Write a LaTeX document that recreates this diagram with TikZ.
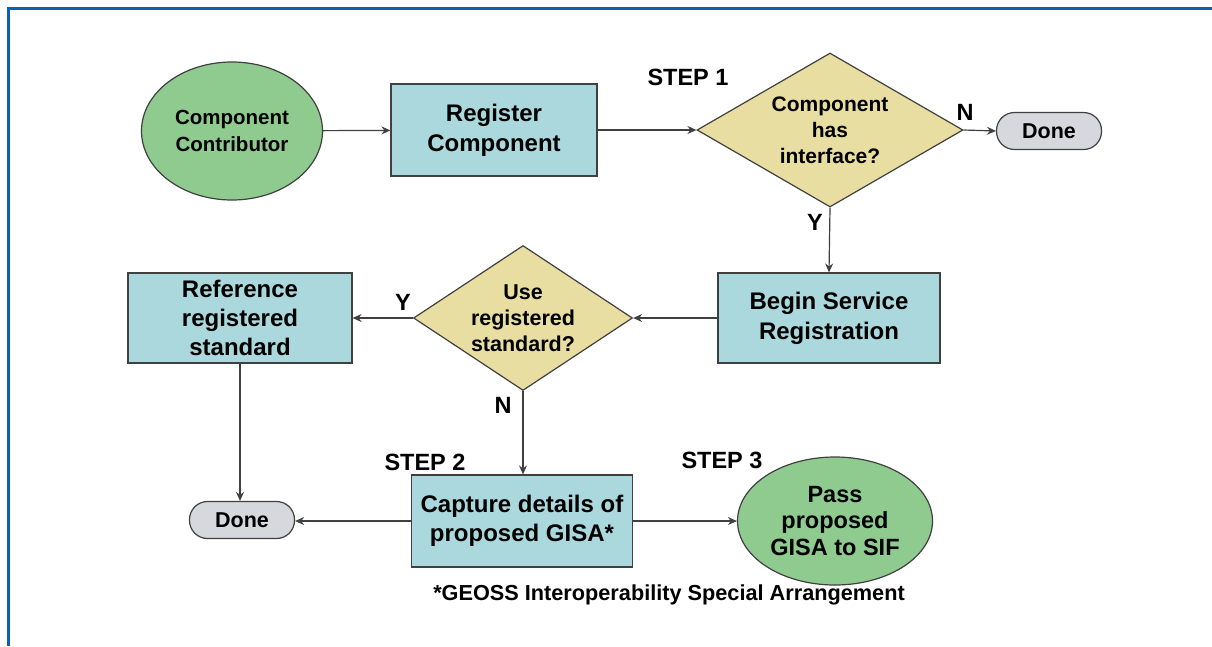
\documentclass[tikz,border=0pt]{standalone}
\usepackage{fontspec}
\setmainfont{Liberation Sans}
\usetikzlibrary{shapes.geometric,arrows.meta}
\definecolor{frameblue}{RGB}{16,96,176}
\definecolor{startgreen}{RGB}{143,203,143}
\definecolor{procteal}{RGB}{170,216,220}
\definecolor{decikhaki}{RGB}{232,222,162}
\definecolor{donegray}{RGB}{214,216,222}
\definecolor{edgegray}{RGB}{64,64,64}
\newcommand{\fsz}[2]{\fontsize{#1}{#2}\selectfont\bfseries}
\tikzset{
  txt/.style={align=center, text=black},
  startell/.style={ellipse, draw=edgegray, line width=1.2pt, fill=startgreen, inner sep=0pt, txt},
  procbox/.style={rectangle, draw=edgegray, line width=1.2pt, fill=procteal, inner sep=0pt, txt},
  decidia/.style={diamond, draw=edgegray, line width=1.2pt, fill=decikhaki, inner sep=0pt},
  donebox/.style={rectangle, rounded corners=18pt, draw=edgegray, line width=1.2pt, fill=donegray, inner sep=0pt, minimum width=105pt, minimum height=37pt, txt, font=\fsz{21.5}{26}},
  lbl/.style={font=\fsz{23.5}{26}, text=black, inner sep=0pt},
  conn/.style={draw=edgegray, line width=1.2pt, -{Stealth[length=9pt,width=8pt,inset=3pt]}}
}
\begin{document}
\begin{tikzpicture}[x=1pt,y=-1pt]
\useasboundingbox (0,0) rectangle (1212,646);
\fill[white] (0,0) rectangle (1212,646);
\draw[frameblue, line width=3pt] (8.5,646) -- (8.5,8.5) -- (1212,8.5);

\node[startell, minimum width=181pt, minimum height=138pt, font=\fsz{20.5}{27}] (contrib) at (232,131) {Component\\Contributor};
\node[procbox, minimum width=206pt, minimum height=92pt, font=\fsz{24}{30}] (regcomp) at (494,130) {Register\\Component};
\node[decidia, minimum width=266pt, minimum height=154pt] (hasif) at (830,130) {};
\node[txt, font=\fsz{21}{26}, inner sep=0pt] (hasiftxt) at (hasif.center) {Component\\has\\interface?};
\node[donebox] (done1) at (1049,131) {Done};
\node[procbox, minimum width=222pt, minimum height=90pt, font=\fsz{24}{30}] (beginsr) at (829,318) {Begin Service\\Registration};
\node[decidia, minimum width=219pt, minimum height=145pt] (usestd) at (523,318) {};
\node[txt, font=\fsz{21.5}{26}, inner sep=0pt] (usestdtxt) at (usestd.center) {Use\\registered\\standard?};
\node[procbox, minimum width=224pt, minimum height=90pt, font=\fsz{24}{29}] (refstd) at (240,318) {Reference\\registered\\standard};
\node[donebox] (done2) at (242,520) {Done};
\node[procbox, minimum width=221pt, minimum height=92pt, font=\fsz{24}{29}] (capture) at (522,521) {Capture details of\\proposed GISA*};
\node[startell, minimum width=195pt, minimum height=128pt, font=\fsz{23.5}{26.5}] (pass) at (835,521) {Pass\\proposed\\GISA to SIF};

\node[lbl] (step1) at (688,77) {STEP 1};
\node[lbl] (step2) at (425,462) {STEP 2};
\node[lbl] (step3) at (722,460) {STEP 3};
\node[lbl] (lblN1) at (965,112) {N};
\node[lbl] (lblY1) at (815,222) {Y};
\node[lbl] (lblY2) at (403,302) {Y};
\node[lbl] (lblN2) at (503,405) {N};
\node[font=\fsz{21.7}{24}, inner sep=0pt] (note) at (669,595) {*GEOSS Interoperability Special Arrangement};

\draw[conn] (contrib) -- (regcomp);
\draw[conn] (regcomp) -- (hasif);
\draw[conn] (hasif.east) -- (done1.west);
\draw[conn] (hasif.south) -- (beginsr.north);
\draw[conn] (beginsr.west) -- (usestd.east);
\draw[conn] (usestd.west) -- (refstd.east);
\draw[conn] (refstd.south) -- (refstd.south |- done2.north);
\draw[conn] (usestd.south) -- (usestd.south |- capture.north);
\draw[conn] (capture.west) -- (capture.west -| done2.east);
\draw[conn] (capture.east) -- (pass.west);
\end{tikzpicture}
\end{document}
